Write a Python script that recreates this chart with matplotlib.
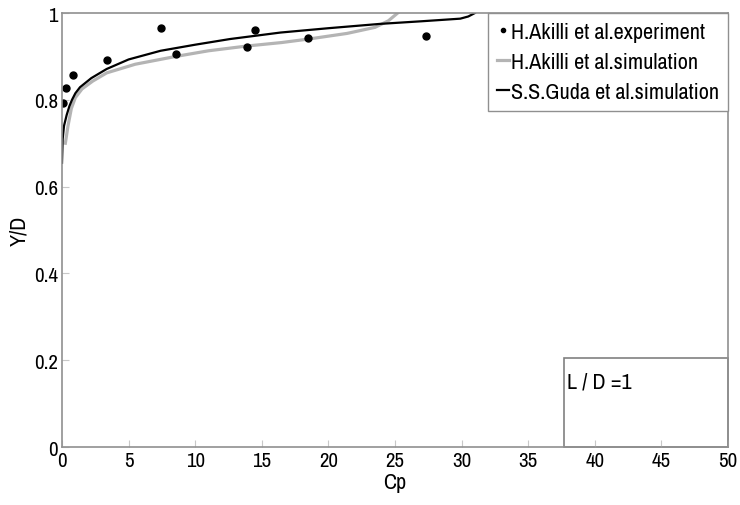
import matplotlib
matplotlib.use("Agg")
import matplotlib.pyplot as plt
from matplotlib import font_manager

# experimental points (Cp, Y/D)
exp_cp = [0.05, 0.3, 0.85, 3.35, 7.45, 8.55, 13.9, 14.5, 18.5, 27.3]
exp_yd = [0.793, 0.827, 0.857, 0.892, 0.965, 0.905, 0.922, 0.961, 0.942, 0.948]

# H.Akilli simulation
akilli_cp = [0.25, 0.45, 0.7, 1.0, 1.5, 2.3, 3.35, 5.5, 8.55, 11.0, 13.9, 16.5, 18.5, 21.4, 23.5, 24.5, 25.2]
akilli_yd = [0.70, 0.74, 0.78, 0.805, 0.825, 0.843, 0.862, 0.882, 0.90, 0.913, 0.924, 0.932, 0.94, 0.953, 0.967, 0.982, 1.0]

# S.S.Guda simulation
guda_cp = [0.0, 0.05, 0.15, 0.35, 0.55, 0.75, 1.0, 1.35, 2.2, 3.35, 5.0, 7.4, 10.0, 12.6, 16.4, 20.0, 23.9, 27.0, 29.9, 30.5, 31.0]
guda_yd = [0.655, 0.71, 0.74, 0.765, 0.785, 0.80, 0.815, 0.829, 0.85, 0.871, 0.893, 0.913, 0.927, 0.94, 0.955, 0.965, 0.975, 0.981, 0.987, 0.992, 1.0]

xticks = [0, 5, 10, 15, 20, 25, 30, 35, 40, 45, 50]
yticks = [0, 0.2, 0.4, 0.6, 0.8, 1.0]
yticklabels = ["0", "0.2", "0.4", "0.6", "0.8", "1"]

# prefer a narrow sans face if one is installed
fonts = font_manager.fontManager.ttflist
narrow = [f.name for f in fonts if "Narrow" in f.name or "Condensed" in f.name]
if narrow:
    plt.rcParams["font.family"] = [narrow[0], "DejaVu Sans"]
    fsz = 15
else:
    plt.rcParams["font.family"] = ["Liberation Sans", "DejaVu Sans"]
    fsz = 13

fig = plt.figure(figsize=(7.4, 5.06), dpi=100)
ax = fig.add_axes([0.0838, 0.1146, 0.9, 0.8577])

ax.plot(akilli_cp, akilli_yd, color="#b4b4b4", lw=2.3, label="H.Akilli et al.simulation")
ax.plot(guda_cp, guda_yd, color="black", lw=1.6, label="S.S.Guda et al.simulation")
ax.plot(exp_cp, exp_yd, "o", color="black", ms=5, label="H.Akilli et al.experiment")

ax.set_xlim(0, 50)
ax.set_ylim(0, 1)
ax.set_xticks(xticks)
ax.set_xticklabels([str(t) for t in xticks])
ax.set_yticks(yticks)
ax.set_yticklabels(yticklabels)
ax.tick_params(direction="in", length=5, color="#c8c8c8", pad=3, labelsize=fsz)
for s in ax.spines.values():
    s.set_color("#909090")
    s.set_linewidth(1.2)

ax.set_xlabel("Cp", fontsize=fsz + 1, labelpad=1)
ax.set_ylabel("Y/D", fontsize=fsz + 1, labelpad=3)

# legend order: experiment first, then the two simulations
h, l = ax.get_legend_handles_labels()
order = [2, 0, 1]
leg = ax.legend([h[i] for i in order], [l[i] for i in order], loc="upper right",
                bbox_to_anchor=(1.0, 1.0), fancybox=False, framealpha=1,
                edgecolor="#909090", handlelength=0.55, handletextpad=0.1,
                borderaxespad=0, borderpad=0.4, labelspacing=0.45, fontsize=fsz + 1,
                markerscale=0.6)
leg.get_frame().set_linewidth(1.0)

ax.text(37.9, 0.152, "L / D =1", fontsize=fsz + 1, va="center", ha="left")
ax.add_patch(plt.Rectangle((37.7, 0), 12.3, 0.205, fill=False, ec="#808080", lw=1.2,
                           clip_on=False))

fig.savefig("out.png", dpi=100)
